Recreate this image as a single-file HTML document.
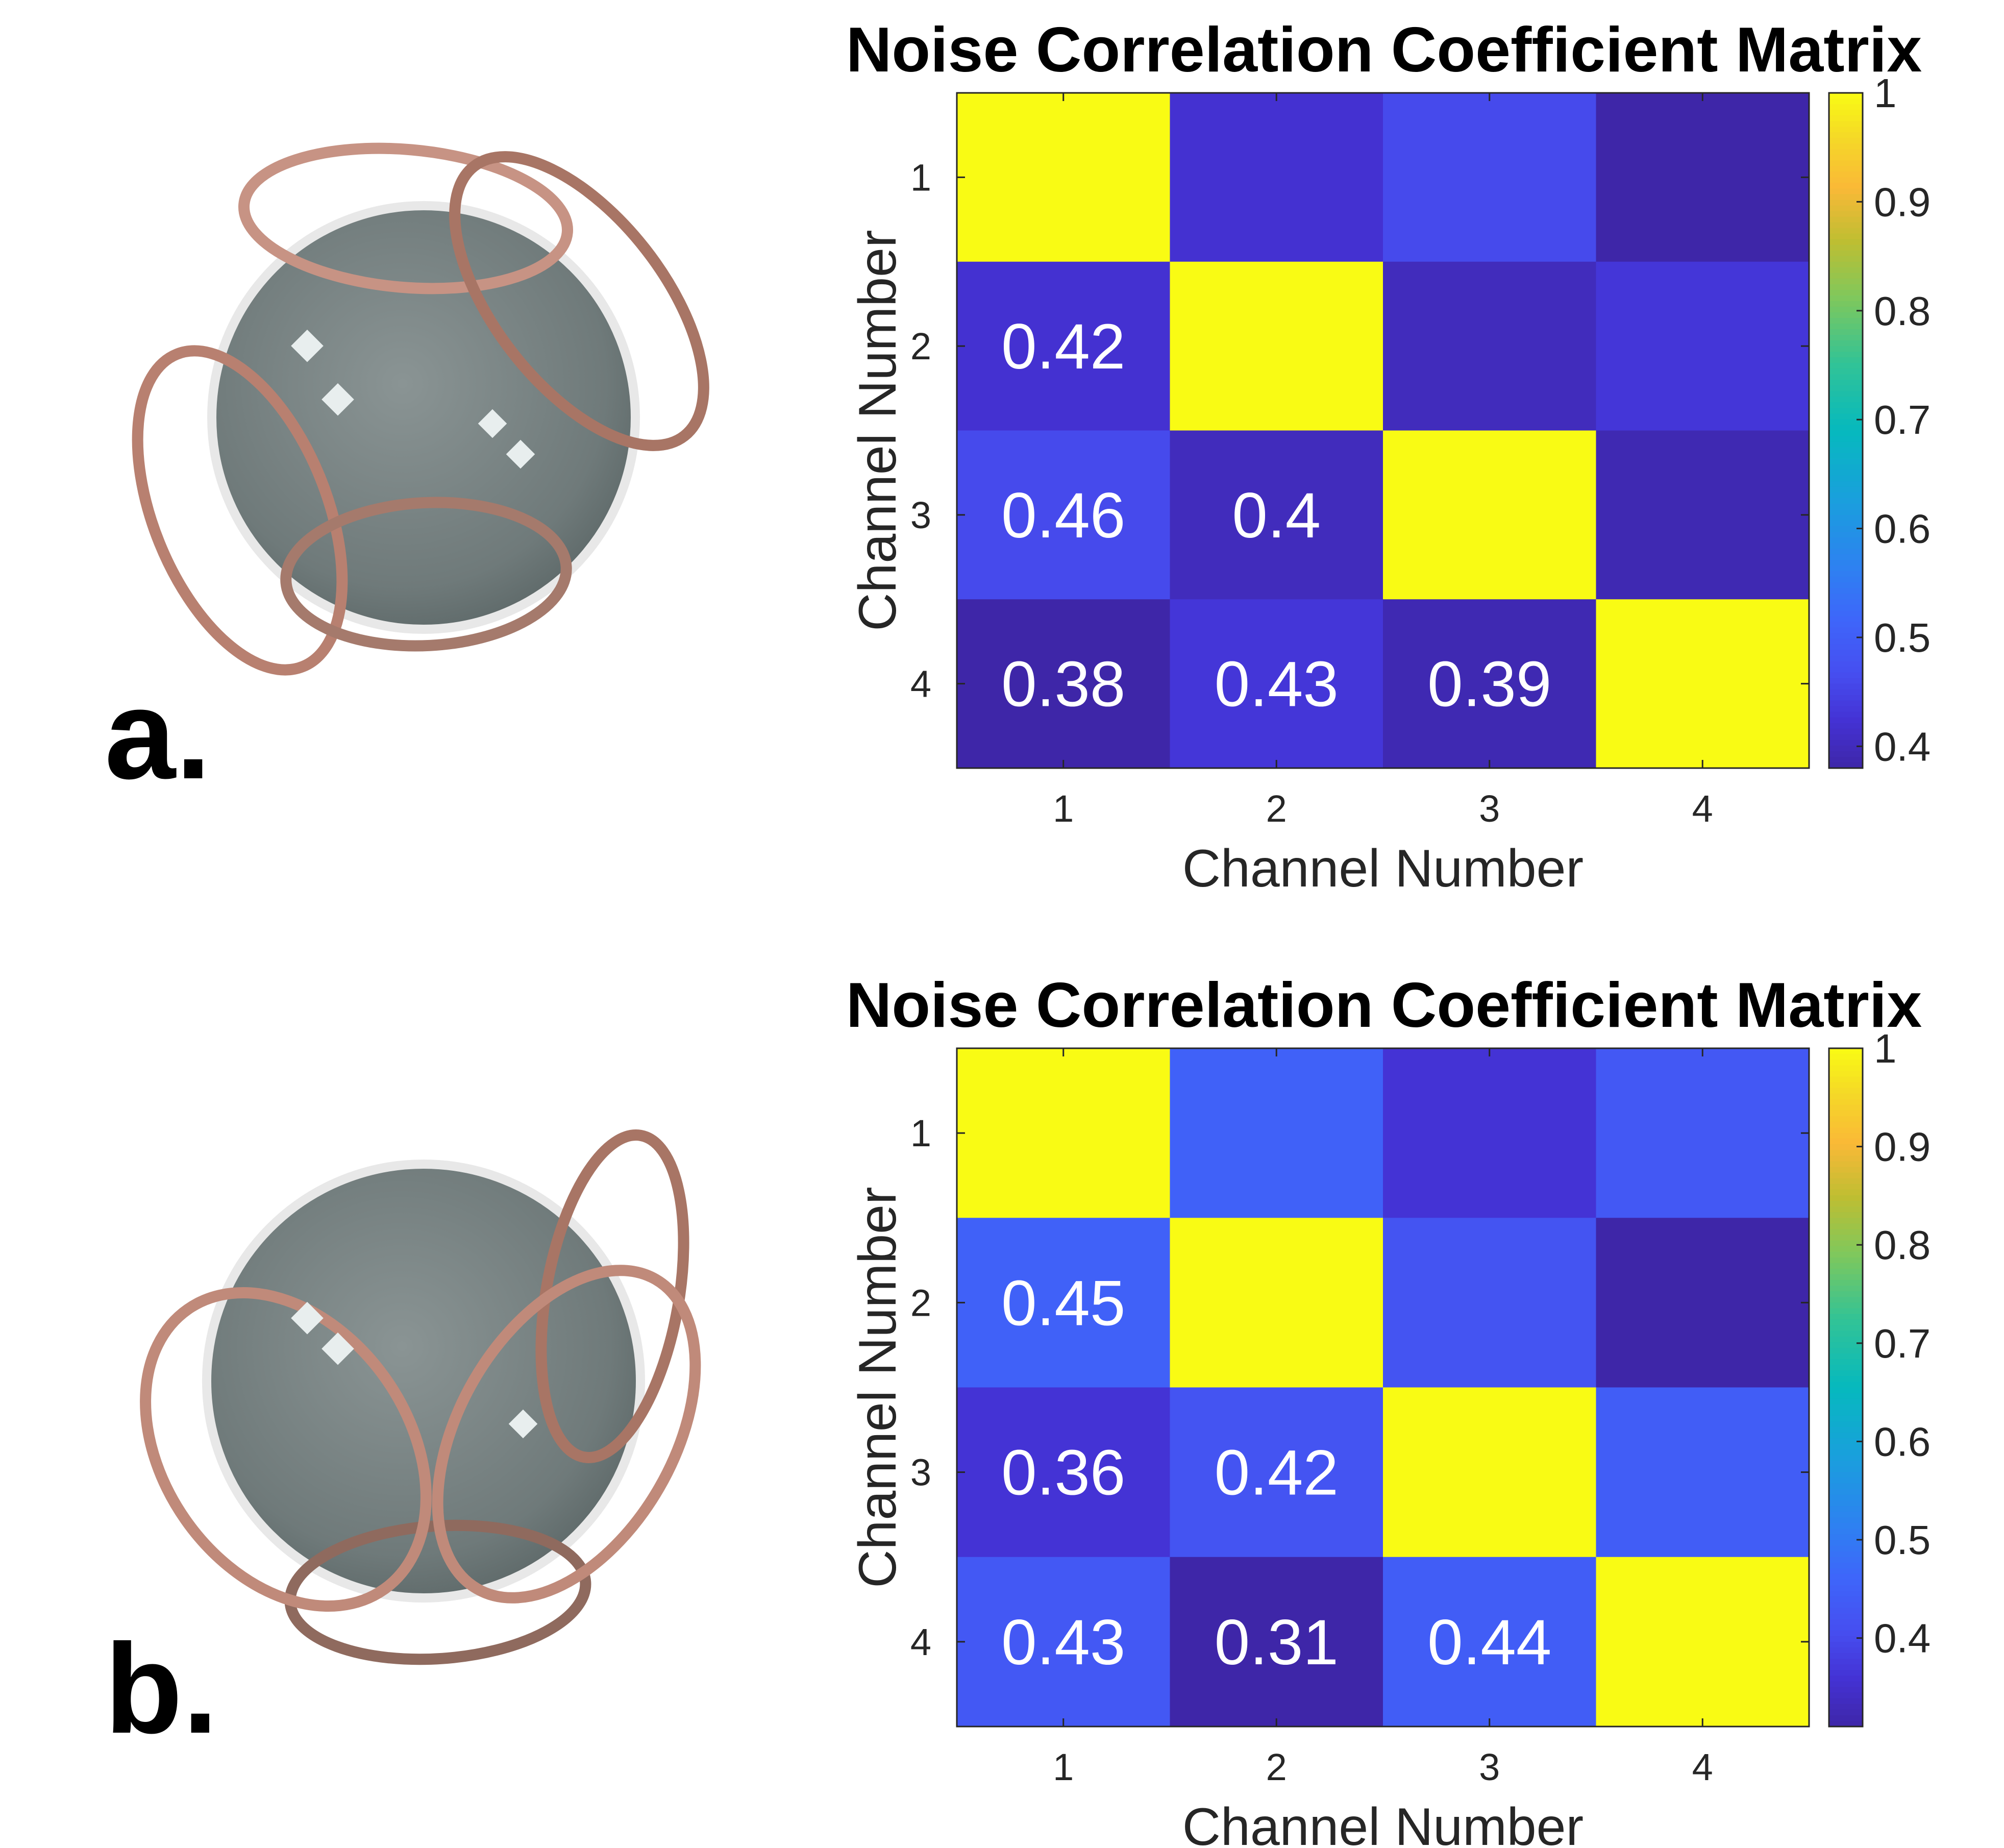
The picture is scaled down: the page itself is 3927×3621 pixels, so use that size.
<!DOCTYPE html>
<html><head><meta charset="utf-8"><style>
html,body{margin:0;padding:0;background:#fff;}
svg{display:block;font-family:"Liberation Sans",Arial,sans-serif;}
</style></head><body>
<svg id="fig" width="3927" height="3621" viewBox="0 0 3927 3621" xmlns="http://www.w3.org/2000/svg">
<defs>
<radialGradient id="sph" cx="0.45" cy="0.42" r="0.6">
<stop offset="0" stop-color="#8a9494"/><stop offset="0.8" stop-color="#6f7a7a"/><stop offset="1" stop-color="#5f6a6a"/>
</radialGradient>
</defs>
<g id="panelA">
<circle cx="830" cy="818" r="415" fill="url(#sph)" stroke="#e8e8e8" stroke-width="18"/>
<ellipse cx="795" cy="428" rx="318" ry="135" fill="none" stroke="#c79384" stroke-width="22" transform="rotate(5 795 428)"/>
<ellipse cx="1135" cy="590" rx="165" ry="335" fill="none" stroke="#a87565" stroke-width="22" transform="rotate(-38 1135 590)"/>
<ellipse cx="470" cy="1000" rx="170" ry="330" fill="none" stroke="#b88070" stroke-width="22" transform="rotate(-22 470 1000)"/>
<ellipse cx="835" cy="1125" rx="275" ry="140" fill="none" stroke="#a57a6c" stroke-width="22" transform="rotate(-3 835 1125)"/>
<rect x="580" y="655" width="45" height="45" fill="#e8eeee" transform="rotate(45 602 677)"/>
<rect x="640" y="760" width="45" height="45" fill="#e8eeee" transform="rotate(45 662 782)"/>
<rect x="945" y="810" width="40" height="40" fill="#e8eeee" transform="rotate(45 965 830)"/>
<rect x="1000" y="870" width="40" height="40" fill="#e8eeee" transform="rotate(45 1020 890)"/>
<text x="205" y="1525" font-size="250" font-weight="900" fill="#000">a.</text>
</g>
<g id="panelB">
<circle cx="830" cy="2706" r="425" fill="url(#sph)" stroke="#e8e8e8" stroke-width="18"/>
<ellipse cx="1200" cy="2540" rx="130" ry="320" fill="none" stroke="#a87565" stroke-width="22" transform="rotate(10 1200 2540)"/>
<ellipse cx="858" cy="3120" rx="290" ry="130" fill="none" stroke="#8f6a5e" stroke-width="22" transform="rotate(-4 858 3120)"/>
<ellipse cx="560" cy="2840" rx="240" ry="335" fill="none" stroke="#c08a7a" stroke-width="22" transform="rotate(-35 560 2840)"/>
<ellipse cx="1110" cy="2810" rx="210" ry="350" fill="none" stroke="#c08a7a" stroke-width="22" transform="rotate(30 1110 2810)"/>
<rect x="580" y="2560" width="45" height="45" fill="#e8eeee" transform="rotate(45 602 2582)"/>
<rect x="640" y="2620" width="45" height="45" fill="#e8eeee" transform="rotate(45 662 2642)"/>
<rect x="1005" y="2770" width="40" height="40" fill="#e8eeee" transform="rotate(45 1025 2790)"/>
<text x="205" y="3395" font-size="250" font-weight="900" fill="#000">b.</text>
</g>
</svg>
<script>
const channels = ["1","2","3","4"];
const matrixA = [[1,0.42,0.46,0.38],[0.42,1,0.40,0.43],[0.46,0.40,1,0.39],[0.38,0.43,0.39,1]];
const matrixB = [[1,0.45,0.36,0.43],[0.45,1,0.42,0.31],[0.36,0.42,1,0.44],[0.43,0.31,0.44,1]];
const cbTicks = [0.4,0.5,0.6,0.7,0.8,0.9,1];
const cbTickLabels = ["0.4","0.5","0.6","0.7","0.8","0.9","1"];

const NS="http://www.w3.org/2000/svg";
const svg=document.getElementById('fig');
const P=[[0,[62,38,168]],[0.07,[68,50,212]],[0.14,[70,78,240]],[0.22,[62,102,250]],[0.3,[45,130,240]],[0.4,[25,160,220]],[0.5,[6,185,190]],[0.6,[50,195,150]],[0.7,[130,200,90]],[0.78,[190,190,50]],[0.86,[250,185,55]],[0.93,[245,215,40]],[1,[249,251,20]]];
function parula(t){t=Math.max(0,Math.min(1,t));for(let i=1;i<P.length;i++){if(t<=P[i][0]){const a=P[i-1],b=P[i],f=(t-a[0])/(b[0]-a[0]);const c=a[1].map((v,k)=>Math.round(v+(b[1][k]-v)*f));return `rgb(${c[0]},${c[1]},${c[2]})`;}}return 'rgb(249,251,20)';}
function el(tag,attrs,parent){const e=document.createElementNS(NS,tag);for(const k in attrs)e.setAttribute(k,attrs[k]);(parent||svg).appendChild(e);return e;}

function heatmap(M,top,bottom,id){
  const L=1875,R=3545;
  const g=el('g',{});
  
  
  const vals=M.flat();const mn=Math.min(...vals),mx=Math.max(...vals);
  const n=channels.length,cw=(R-L)/n,ch=(bottom-top)/n;
  const xs=i=>L+i*cw, ys=j=>top+j*ch;
  for(let r=0;r<n;r++)for(let c=0;c<n;c++){
    const rc=el('rect',{x:xs(c),y:ys(r),width:cw+0.5,height:ch+0.5,fill:parula((M[r][c]-mn)/(mx-mn))},g);
    
    
    if(r>c){
      const t=el('text',{x:xs(c)+cw/2,y:ys(r)+ch/2+44,'text-anchor':'middle','font-size':125,fill:'#fff'},g);
      t.textContent=String(M[r][c]);
      
      
    }
  }
  el('rect',{x:L,y:top,width:R-L,height:bottom-top,fill:'none',stroke:'#262626','stroke-width':3},g);
  for(let i=0;i<n;i++){
    const cx=xs(i)+cw/2, cy=ys(i)+ch/2;
    el('line',{x1:cx,y1:bottom,x2:cx,y2:bottom-16,stroke:'#262626','stroke-width':3},g);
    el('line',{x1:cx,y1:top,x2:cx,y2:top+16,stroke:'#262626','stroke-width':3},g);
    el('line',{x1:L,y1:cy,x2:L+16,y2:cy,stroke:'#262626','stroke-width':3},g);
    el('line',{x1:R,y1:cy,x2:R-16,y2:cy,stroke:'#262626','stroke-width':3},g);
    const xt=el('text',{x:cx,y:bottom+105,'text-anchor':'middle','font-size':74,fill:'#262626'},g);
    xt.textContent=channels[i];
    
    
    const yt=el('text',{x:L-50,y:cy+26,'text-anchor':'end','font-size':74,fill:'#262626'},g);
    yt.textContent=channels[i];
    
    
  }
  const title=el('text',{x:2712,y:top-42,'text-anchor':'middle','font-size':124,'font-weight':'bold',fill:'#000'},g);
  title.textContent='Noise Correlation Coefficient Matrix';
  
  
  const xl=el('text',{x:(L+R)/2,y:bottom+232,'text-anchor':'middle','font-size':104,fill:'#262626'},g);
  xl.textContent='Channel Number';
  
  
  const ymid=(top+bottom)/2;
  const yl=el('text',{x:1755,y:ymid,'text-anchor':'middle','font-size':104,fill:'#262626',transform:`rotate(-90 1755 ${ymid})`},g);
  yl.textContent='Channel Number';
  
  
  const CL=3584,CR=3650,steps=120;
  const cb=el('g',{},g);
  
  
  const cy=v=>bottom-(v-mn)/(mx-mn)*(bottom-top);
  for(let s=0;s<steps;s++){
    const y0=top+s*(bottom-top)/steps;
    el('rect',{x:CL,y:y0,width:CR-CL,height:(bottom-top)/steps+1,fill:parula(1-(s+0.5)/steps)},cb);
  }
  el('rect',{x:CL,y:top,width:CR-CL,height:bottom-top,fill:'none',stroke:'#262626','stroke-width':3},cb);
  cbTicks.forEach((v,i)=>{
    if(v<mn-1e-9||v>mx+1e-9)return;
    const y=cy(v);
    el('line',{x1:CR,y1:y,x2:CR-12,y2:y,stroke:'#262626','stroke-width':3},cb);
    const t=el('text',{x:CR+22,y:y+28,'font-size':80,fill:'#262626'},cb);
    t.textContent=cbTickLabels[i];
    
    
  });
}
heatmap(matrixA,182,1505,'a');
heatmap(matrixB,2054,3383,'b');
</script>
</body></html>
